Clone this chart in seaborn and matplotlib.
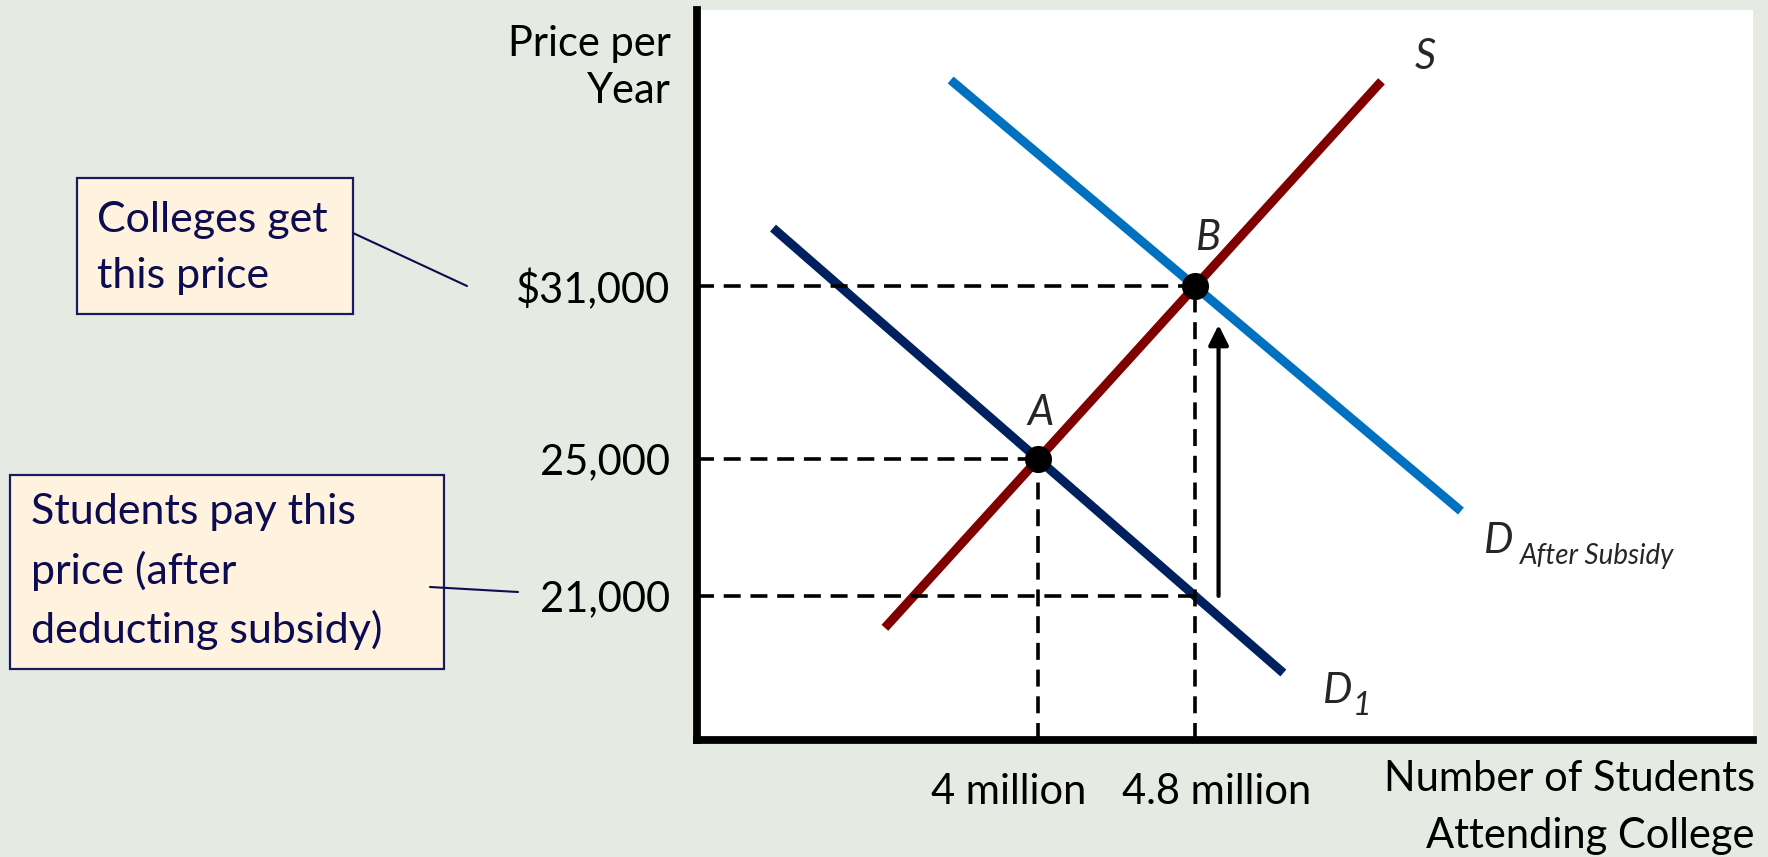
import numpy as np
import pandas as pd
import matplotlib
matplotlib.use("Agg")
import matplotlib.pyplot as plt
import seaborn as sns
from matplotlib.patches import Rectangle
from matplotlib.lines import Line2D

# ---------------- data ----------------
price_ticks = [21000, 25000, 31000]
price_labels = ["21,000", "25,000", "$31,000"]
quantity_ticks = [4.0, 4.8]                     # millions of students
quantity_labels = ["4 million", "4.8 million"]

curve_names = ["S", "D1", "D After Subsidy"]
curve_q = [[3.22, 5.75], [2.65, 5.25], [3.555, 6.155]]
curve_p = [[20070, 38100], [33010, 18750], [38145, 23480]]

eq_names = ["A", "B"]
eq_q = [4.0, 4.8]
eq_p = [25000, 31000]

students_pay = 21000
arrow_q = 4.92
arrow_p = [21000, 29650]

# ---------------- layout / style ----------------
W, H, DPI = 1768, 857, 100
AX_L, AX_R, AX_T, AX_B = 697, 1753, 10, 740     # plot frame in pixels
PRICE_FRAC = [0.1973, 0.3849, 0.6219]           # schematic height of each price tick
Q_FRAC = [0.3229, 0.4716]                       # schematic position of each quantity tick

BG = "#E5EAE3"
BOX_FILL = "#FFF2DE"
NAVY_TEXT = "#0C0C50"
COLORS = {"S": "#800000", "D1": "#002060", "D After Subsidy": "#0070C0"}
FS = 30


def piecewise(xs, ys):
    xs = np.asarray(xs, float)
    ys = np.asarray(ys, float)
    s0 = (ys[1] - ys[0]) / (xs[1] - xs[0])
    s1 = (ys[-1] - ys[-2]) / (xs[-1] - xs[-2])

    def f(v):
        v = np.asarray(v, float)
        out = np.interp(v, xs, ys)
        out = np.where(v < xs[0], ys[0] + (v - xs[0]) * s0, out)
        out = np.where(v > xs[-1], ys[-1] + (v - xs[-1]) * s1, out)
        return out
    return f


price_fwd = piecewise(price_ticks, PRICE_FRAC)
price_inv = piecewise(PRICE_FRAC, price_ticks)

sns.set_theme(style="white")
plt.rcParams["font.family"] = ["Lato", "DejaVu Sans"]

fig = plt.figure(figsize=(W / DPI, H / DPI), dpi=DPI, facecolor=BG)
ax = fig.add_axes([AX_L / W, 1 - AX_B / H, (AX_R - AX_L) / W, (AX_B - AX_T) / H])
ax.set_facecolor("white")

ax.set_yscale("function", functions=(price_fwd, price_inv))
ax.set_ylim(float(price_inv(0.0)), float(price_inv(1.0)))
q_slope = (Q_FRAC[1] - Q_FRAC[0]) / (quantity_ticks[1] - quantity_ticks[0])
ax.set_xlim(quantity_ticks[0] - Q_FRAC[0] / q_slope,
            quantity_ticks[0] + (1 - Q_FRAC[0]) / q_slope)

# supply and demand curves
curves = pd.DataFrame({
    "curve": np.repeat(curve_names, 2),
    "q": np.concatenate(curve_q),
    "p": np.concatenate(curve_p),
})
sns.lineplot(data=curves, x="q", y="p", hue="curve", palette=COLORS,
             estimator=None, sort=False, lw=6.5, legend=False, ax=ax,
             solid_capstyle="butt", zorder=2)

# dashed guides
x0 = ax.get_xlim()[0]
y0 = ax.get_ylim()[0]
dash_kw = dict(color="black", lw=2.6, dashes=(4.7, 2.7), zorder=3)
ax.plot([x0, eq_q[1]], [eq_p[1], eq_p[1]], **dash_kw)
ax.plot([x0, eq_q[0]], [eq_p[0], eq_p[0]], **dash_kw)
ax.plot([x0, eq_q[1]], [students_pay, students_pay], **dash_kw)
ax.plot([eq_q[0], eq_q[0]], [y0, eq_p[0]], **dash_kw)
ax.plot([eq_q[1], eq_q[1]], [y0, eq_p[1]], **dash_kw)

# equilibrium points
sns.scatterplot(x=eq_q, y=eq_p, s=380, color="black", edgecolor="black",
                linewidth=0, zorder=5, ax=ax, legend=False)

# subsidy arrow
ax.annotate("", xy=(arrow_q, arrow_p[1]), xytext=(arrow_q, arrow_p[0]),
            arrowprops=dict(arrowstyle="-|>", color="black", lw=3,
                            mutation_scale=30, shrinkA=0, shrinkB=0),
            zorder=4)

# axes frame
for side in ("top", "right"):
    ax.spines[side].set_visible(False)
for side in ("left", "bottom"):
    ax.spines[side].set_linewidth(5.6)
    ax.spines[side].set_color("black")
    ax.spines[side].set_capstyle("projecting")
    ax.spines[side].set_zorder(6)

ax.set_xlabel("")
ax.set_ylabel("")
ax.set_yticks(price_ticks)
ax.set_yticklabels(price_labels)
ax.yaxis.set_minor_locator(matplotlib.ticker.NullLocator())
ax.tick_params(axis="y", length=0, pad=19.4, labelsize=FS, labelcolor="black")
ax.set_xticks([])

for q, lab, dx in zip(quantity_ticks, quantity_labels, [-21.2, 15.5]):
    ax.annotate(lab, xy=(q, 0), xycoords=("data", "axes fraction"),
                xytext=(dx, -46), textcoords="offset points",
                ha="center", va="baseline", fontsize=FS, color="black")

# point and curve labels
for q, p, name, off in zip(eq_q, eq_p, eq_names, [(2, 33), (9.4, 34.5)]):
    ax.annotate(name, xy=(q, p), xytext=off, textcoords="offset points",
                ha="center", va="center", fontsize=FS, fontstyle="italic")

ax.annotate("S", xy=(curve_q[0][1], curve_p[0][1]), xytext=(31.7, 17.3),
            textcoords="offset points", ha="center", va="center",
            fontsize=FS, fontstyle="italic")
ax.annotate("D", xy=(curve_q[1][1], curve_p[1][1]), xytext=(28.8, -21.6),
            textcoords="offset points", ha="left", va="baseline",
            fontsize=FS, fontstyle="italic")
ax.annotate("1", xy=(curve_q[1][1], curve_p[1][1]), xytext=(49.7, -30.2),
            textcoords="offset points", ha="left", va="baseline",
            fontsize=23, fontstyle="italic")
ax.annotate("D", xy=(curve_q[2][1], curve_p[2][1]), xytext=(16.6, -30.2),
            textcoords="offset points", ha="left", va="baseline",
            fontsize=FS, fontstyle="italic")
ax.annotate("After Subsidy", xy=(curve_q[2][1], curve_p[2][1]),
            xytext=(42.5, -38.2), textcoords="offset points", ha="left",
            va="baseline", fontsize=20, fontstyle="italic")

# axis titles (y given for the baseline of the last line)
fig.text(671 / W, 1 - 103 / H, "Price per\nYear", ha="right", va="baseline",
         multialignment="right", fontsize=FS, linespacing=1.30, color="black")
fig.text(1755 / W, 1 - 848 / H, "Number of Students\nAttending College",
         ha="right", va="baseline", multialignment="right", fontsize=FS,
         linespacing=1.60, color="black")


# callout boxes
def callout(x0p, y0p, x1p, y1p, text, tx, ty_last, line):
    fig.add_artist(Rectangle((x0p / W, 1 - y1p / H), (x1p - x0p) / W,
                             (y1p - y0p) / H, transform=fig.transFigure,
                             facecolor=BOX_FILL, edgecolor="#1A1A5E", lw=1.6,
                             zorder=1))
    fig.text(tx / W, 1 - ty_last / H, text, ha="left", va="baseline",
             fontsize=31, color=NAVY_TEXT, linespacing=1.58, zorder=2)
    (lx0, ly0), (lx1, ly1) = line
    fig.add_artist(Line2D([lx0 / W, lx1 / W], [1 - ly0 / H, 1 - ly1 / H],
                          transform=fig.transFigure, color=NAVY_TEXT,
                          lw=1.5, zorder=3))


callout(77, 178, 353, 314, "Colleges get\nthis price", 97, 288,
        ((353, 233), (467, 286)))
callout(10, 475, 444, 669, "Students pay this\nprice (after\ndeducting subsidy)",
        31, 643, ((430, 587), (518, 592)))

fig.savefig("out.png", dpi=DPI, facecolor=BG)
